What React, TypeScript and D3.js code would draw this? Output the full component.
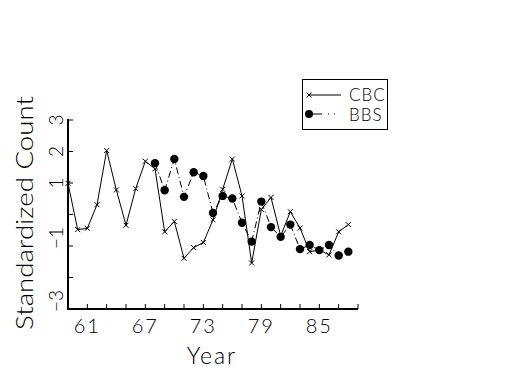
import * as d3 from "d3";

// Standardized counts
const cbcYears = d3.range(59, 89);
const cbcValues = [0.99, -0.48, -0.44, 0.31, 2.03, 0.78, -0.34, 0.82, 1.69, 1.45, -0.55, -0.22, -1.39, -1.05, -0.89, -0.17, 0.8, 1.76, 0.59, -1.54, 0.16, 0.54, -0.68, 0.09, -0.43, -1.18, -1.13, -1.28, -0.55, -0.32];
const bbsYears = d3.range(68, 89);
const bbsValues = [1.63, 0.77, 1.76, 0.56, 1.34, 1.22, 0.05, 0.59, 0.51, -0.26, -0.86, 0.41, -0.4, -0.71, -0.32, -1.1, -0.97, -1.13, -0.97, -1.3, -1.18];

const xTicks = d3.range(61, 90, 2);
const xLabels = [61, 67, 73, 79, 85];
const yTicks = [3, 2, 1, 0, -1, -2, -3];
const yLabels = ["3", "2", "1", "−1", "−3"];
const yLabelValues = [3, 2, 1, -1, -3];

const FONT = "Lato, Roboto, 'DejaVu Sans', sans-serif";

const App = () => {
    const width = 525, height = 375;

    const x = d3.scaleLinear().domain([59, 89]).range([68, 358]);
    const y = d3.scaleLinear().domain([-3, 3]).range([309, 120]);

    const line = d3.line<[number, number]>()
        .x(d => x(d[0]))
        .y(d => y(d[1]));

    const cbc = cbcYears.map((yr, i) => [yr, cbcValues[i]] as [number, number]);
    const bbs = bbsYears.map((yr, i) => [yr, bbsValues[i]] as [number, number]);

    const cross = (cx: number, cy: number, k: string) => (
        <path key={k} d={`M${cx - 2.5},${cy - 2.5}L${cx + 2.5},${cy + 2.5}M${cx - 2.5},${cy + 2.5}L${cx + 2.5},${cy - 2.5}`}
            stroke="#000" strokeWidth={1} />
    );

    return (
        <svg width={width} height={height} style={{ position: "absolute", left: 0, top: 0, background: "#fff" }}>
            {/* axes */}
            <line x1={x(59)} x2={x(59)} y1={y(3) - 1} y2={y(-3) + 1} stroke="#000" strokeWidth={2} />
            <line x1={x(59)} x2={x(89)} y1={y(-3)} y2={y(-3)} stroke="#000" strokeWidth={2} />
            {yTicks.map(t => (
                <line key={"yt" + t} x1={x(59)} x2={x(59) + 5} y1={y(t)} y2={y(t)} stroke="#000" strokeWidth={1} />
            ))}
            {xTicks.map(t => (
                <line key={"xt" + t} x1={x(t)} x2={x(t)} y1={y(-3)} y2={y(-3) - 5} stroke="#000" strokeWidth={1} />
            ))}
            {yLabelValues.map((v, i) => (
                <text key={"yl" + v} transform={`translate(63,${y(v) - (v < 0 ? 8 : 0)}) rotate(-90)`}
                    textAnchor="middle" fontFamily={FONT} fontWeight={300} fontSize={19}>{yLabels[i]}</text>
            ))}
            {xLabels.map(v => (
                <text key={"xl" + v} x={x(v)} y={333} textAnchor="middle" fontFamily={FONT} fontWeight={300}
                    fontSize={20} letterSpacing={2}>{v}</text>
            ))}
            <text x={212} y={364} textAnchor="middle" fontFamily={FONT} fontWeight={300} fontSize={23}
                letterSpacing={2}>Year</text>
            <text transform="translate(33,213) rotate(-90)" textAnchor="middle" fontFamily={FONT} fontWeight={300}
                fontSize={24} textLength={234} lengthAdjust="spacingAndGlyphs">Standardized Count</text>

            {/* series */}
            <path d={line(cbc) ?? ""} fill="none" stroke="#000" strokeWidth={1} />
            <path d={line(bbs) ?? ""} fill="none" stroke="#000" strokeWidth={1} strokeDasharray="7,3,1,3" />
            {cbc.map(d => cross(x(d[0]), y(d[1]), "c" + d[0]))}
            {bbs.map(d => (
                <circle key={"b" + d[0]} cx={x(d[0])} cy={y(d[1])} r={4.2} fill="#000" />
            ))}

            {/* legend */}
            <rect x={302.5} y={79.5} width={85} height={50} fill="#fff" stroke="#000" strokeWidth={1} />
            <line x1={308} x2={341} y1={95} y2={95} stroke="#000" strokeWidth={1} />
            {cross(309, 95, "lc")}
            <text x={349} y={101} fontFamily={FONT} fontWeight={300} fontSize={17} letterSpacing={1}>CBC</text>
            <line x1={308} x2={337} y1={114} y2={114} stroke="#000" strokeWidth={1} strokeDasharray="14,6,1,5,1,40" />
            <circle cx={309} cy={114} r={4} fill="#000" />
            <text x={349} y={121} fontFamily={FONT} fontWeight={300} fontSize={17} letterSpacing={1}>BBS</text>
        </svg>
    );
};

export default App;
